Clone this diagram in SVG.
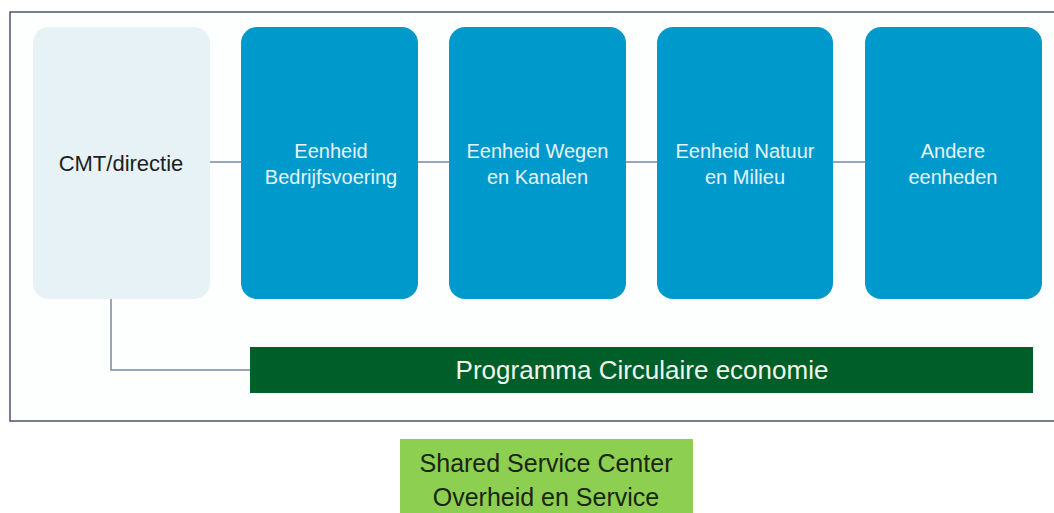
<svg xmlns="http://www.w3.org/2000/svg" width="1054" height="513" viewBox="0 0 1054 513">
<style>
.unit{fill:#0099cc}
.ut{font-family:"Liberation Sans",Arial,sans-serif;font-size:20px;fill:#e3f5f9;text-anchor:middle}
.conn{stroke:#7886a3;stroke-width:1.5;fill:none}
.big{font-family:"Liberation Sans",Arial,sans-serif;text-anchor:middle}
</style>
<rect x="0" y="0" width="1054" height="513" fill="#ffffff"/>
<rect x="10" y="12" width="1060" height="409" fill="#fdfefe" stroke="#4a5468" stroke-width="1.5"/>
<g id="connectors">
<line class="conn" x1="210" y1="162" x2="241" y2="162"/>
<line class="conn" x1="418" y1="162" x2="449" y2="162"/>
<line class="conn" x1="626" y1="162" x2="657" y2="162"/>
<line class="conn" x1="833" y1="162" x2="865" y2="162"/>
<polyline class="conn" points="111,299 111,370 250,370"/>
</g>
<g id="cmt">
<rect x="33" y="27" width="177" height="272" rx="16" fill="#e6f2f5"/>
<text x="121" y="171" class="big" style="font-size:22px;fill:#1e1e1e">CMT/directie</text>
</g>
<g id="bedrijfsvoering">
<rect class="unit" x="241" y="27" width="177" height="272" rx="16"/>
<text x="331" y="158" class="ut">Eenheid</text>
<text x="331" y="184" class="ut">Bedrijfsvoering</text>
</g>
<g id="wegen">
<rect class="unit" x="449" y="27" width="177" height="272" rx="16"/>
<text x="537.5" y="158" class="ut">Eenheid Wegen</text>
<text x="537.5" y="184" class="ut">en Kanalen</text>
</g>
<g id="natuur">
<rect class="unit" x="657" y="27" width="176" height="272" rx="16"/>
<text x="745" y="158" class="ut">Eenheid Natuur</text>
<text x="745" y="184" class="ut">en Milieu</text>
</g>
<g id="andere">
<rect class="unit" x="865" y="27" width="177" height="272" rx="16"/>
<text x="953" y="158" class="ut">Andere</text>
<text x="953" y="184" class="ut">eenheden</text>
</g>
<g id="programma">
<rect x="250" y="347" width="783" height="46" fill="#005f29"/>
<text x="642" y="379" class="big" style="font-size:26px;fill:#eef6ee">Programma Circulaire economie</text>
</g>
<g id="ssc">
<rect x="400" y="439" width="293" height="80" fill="#8dcf51"/>
<text x="546" y="472" class="big" style="font-size:25px;fill:#1a2610">Shared Service Center</text>
<text x="546" y="506" class="big" style="font-size:25px;fill:#1a2610">Overheid en Service</text>
</g>
</svg>
